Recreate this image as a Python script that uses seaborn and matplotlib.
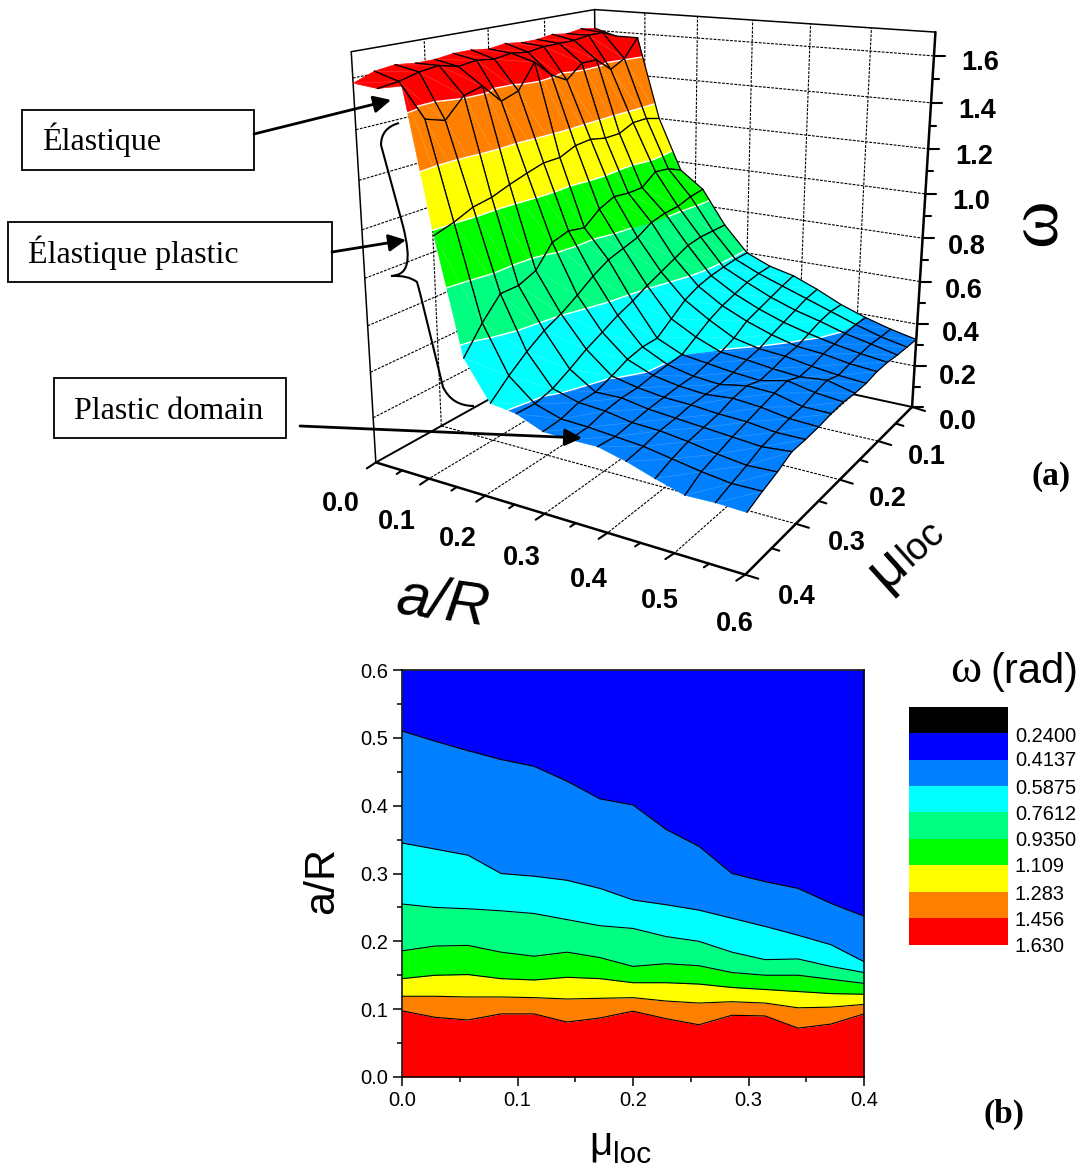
import numpy as np
import seaborn as sns
import matplotlib
matplotlib.use('Agg')
import matplotlib.pyplot as plt
from matplotlib.patches import Polygon, Rectangle, PathPatch
from matplotlib.path import Path

sns.set_theme(style='ticks')
plt.rcParams['font.family'] = ['Liberation Sans', 'DejaVu Sans']
plt.rcParams['text.color'] = 'black'
plt.rcParams['xtick.labelcolor'] = 'black'
plt.rcParams['ytick.labelcolor'] = 'black'

# ------------------------------------------------------------------
# Data: surface (a)
# ------------------------------------------------------------------
a_grid = [0.0, 0.0429, 0.0857, 0.1286, 0.1714, 0.2143, 0.2571, 0.3, 0.3429, 0.3857, 0.4286, 0.4714, 0.5143, 0.5571, 0.6]
mu_grid = [0.4, 0.3714, 0.3429, 0.3143, 0.2857, 0.2571, 0.2286, 0.2, 0.1714, 0.1429, 0.1143, 0.0857, 0.0571, 0.0286, 0.0]

omega_r00 = [1.58, 1.61, 1.62, 1.61, 1.61, 1.62, 1.62, 1.61, 1.62, 1.61, 1.61, 1.62, 1.61, 1.62, 1.61]
omega_r01 = [1.57, 1.58, 1.60, 1.61, 1.59, 1.60, 1.59, 1.60, 1.59, 1.60, 1.60, 1.60, 1.61, 1.61, 1.58]
omega_r02 = [1.59, 1.445, 1.42, 1.50, 1.52, 1.44, 1.465, 1.57, 1.50, 1.46, 1.52, 1.52, 1.46, 1.495, 1.58]
omega_r03 = [1.03, 1.054, 1.087, 1.10, 1.127, 1.15, 1.17, 1.17, 1.20, 1.206, 1.19, 1.19, 1.22, 1.22, 1.20]
omega_r04 = [0.56, 0.665, 0.75, 0.75, 0.78, 0.87, 0.89, 0.875, 0.93, 0.96, 0.95, 0.95, 1.0, 0.99, 0.96]
omega_r05 = [0.40, 0.47, 0.53, 0.58, 0.615, 0.66, 0.71, 0.75, 0.77, 0.79, 0.83, 0.845, 0.85, 0.87, 0.88]
omega_r06 = [0.385, 0.38, 0.40, 0.44, 0.485, 0.52, 0.557, 0.585, 0.62, 0.65, 0.68, 0.71, 0.72, 0.72, 0.72]
omega_r07 = [0.34, 0.345, 0.368, 0.368, 0.394, 0.425, 0.44, 0.44, 0.49, 0.54, 0.57, 0.586, 0.594, 0.60, 0.60]
omega_r08 = [0.337, 0.34, 0.36, 0.37, 0.37, 0.38, 0.385, 0.39, 0.43, 0.47, 0.50, 0.52, 0.54, 0.55, 0.553]
omega_r09 = [0.338, 0.33, 0.34, 0.35, 0.355, 0.36, 0.36, 0.375, 0.385, 0.41, 0.45, 0.47, 0.49, 0.51, 0.526]
omega_r10 = [0.31, 0.32, 0.335, 0.34, 0.35, 0.35, 0.35, 0.36, 0.375, 0.385, 0.41, 0.43, 0.45, 0.47, 0.48]
omega_r11 = [0.273, 0.30, 0.32, 0.33, 0.34, 0.36, 0.37, 0.35, 0.36, 0.375, 0.38, 0.40, 0.42, 0.43, 0.427]
omega_r12 = [0.24, 0.28, 0.30, 0.32, 0.335, 0.35, 0.365, 0.375, 0.35, 0.355, 0.37, 0.375, 0.385, 0.39, 0.386]
omega_r13 = [0.244, 0.265, 0.285, 0.31, 0.32, 0.33, 0.335, 0.35, 0.36, 0.34, 0.35, 0.355, 0.36, 0.355, 0.353]
omega_r14 = [0.24, 0.267, 0.29, 0.32, 0.32, 0.324, 0.333, 0.337, 0.33, 0.33, 0.34, 0.34, 0.333, 0.33, 0.327]

surface_levels = [0.39, 0.61, 0.83, 1.05, 1.27, 1.49]
surface_colors = ['#0080ff', '#00ffff', '#00ff80', '#00ff00', '#ffff00', '#ff8000', '#ff0000']

# ------------------------------------------------------------------
# Data: contour map (b), a/R of each band's upper edge against mu
# ------------------------------------------------------------------
mu_map = [0.0, 0.0286, 0.0571, 0.0857, 0.1143, 0.1429, 0.1714, 0.2, 0.2286, 0.2571, 0.2857, 0.3143, 0.3429, 0.3714, 0.4]
edge_red = [0.0975, 0.088, 0.084, 0.093, 0.093, 0.081, 0.087, 0.097, 0.086, 0.077, 0.091, 0.090, 0.072, 0.078, 0.093]
edge_orange = [0.119, 0.119, 0.118, 0.118, 0.117, 0.115, 0.116, 0.117, 0.112, 0.109, 0.111, 0.109, 0.102, 0.103, 0.107]
edge_yellow = [0.145, 0.150, 0.151, 0.145, 0.143, 0.147, 0.145, 0.139, 0.139, 0.137, 0.132, 0.129, 0.126, 0.123, 0.122]
edge_green = [0.186, 0.193, 0.194, 0.184, 0.178, 0.184, 0.176, 0.163, 0.167, 0.164, 0.154, 0.150, 0.150, 0.144, 0.138]
edge_spring = [0.255, 0.25, 0.248, 0.245, 0.241, 0.232, 0.223, 0.219, 0.207, 0.200, 0.184, 0.173, 0.174, 0.163, 0.154]
edge_cyan = [0.345, 0.336, 0.327, 0.30, 0.296, 0.29, 0.278, 0.261, 0.254, 0.246, 0.234, 0.222, 0.209, 0.195, 0.17]
edge_azure = [0.51, 0.495, 0.481, 0.468, 0.458, 0.436, 0.41, 0.401, 0.365, 0.34, 0.30, 0.288, 0.278, 0.256, 0.237]

legend_labels = ['0.2400', '0.4137', '0.5875', '0.7612', '0.9350', '1.109', '1.283', '1.456', '1.630']
legend_colors = ['#000000', '#0000ff', '#0080ff', '#00ffff', '#00ff80', '#00ff00', '#ffff00', '#ff8000', '#ff0000']

omega = np.array([omega_r00, omega_r01, omega_r02, omega_r03, omega_r04, omega_r05, omega_r06, omega_r07,
                  omega_r08, omega_r09, omega_r10, omega_r11, omega_r12, omega_r13, omega_r14])

fig = plt.figure(figsize=(10.77, 11.69), dpi=100)
ax = fig.add_axes([0, 0, 1, 1])
ax.set_xlim(0, 1077)
ax.set_ylim(1169, 0)
ax.axis('off')

# ------------------------------------------------------------------
# Perspective of the 3D box, fitted on the box corners and axis marks
# (a/0.6, mu/0.4, omega/1.7) -> pixel
# ------------------------------------------------------------------
box_world = [(0, 1, 0), (1, 1, 0), (1, 0, 0), (0, 0, 0), (0, 1, 1), (0, 0, 1), (1, 0, 1),
             (0.5, 1, 0), (1, 0.5, 0), (1, 0, 0.47), (0, 0.5, 1)]
box_pixel = [(377, 464), (747, 573), (913, 406), (597, 338), (351, 51), (595, 10), (935, 32),
             (543, 513), (838, 482), (923, 239), (488, 28)]

rows = []
rhs = []
for (X, Y, Z), (u, v) in zip(box_world, box_pixel):
    rows.append([X, Y, Z, 1, 0, 0, 0, 0, -u * X, -u * Y, -u * Z])
    rows.append([0, 0, 0, 0, X, Y, Z, 1, -v * X, -v * Y, -v * Z])
    rhs += [u, v]
h = np.linalg.lstsq(np.array(rows, float), np.array(rhs, float), rcond=None)[0]
P = np.append(h, 1).reshape(3, 4)


def proj(a, mu, z):
    p = P @ np.array([a / 0.6, mu / 0.4, z / 1.7, 1.0])
    return p[0] / p[2], p[1] / p[2]


def seg(p, q, **kw):
    x0, y0 = proj(*p)
    x1, y1 = proj(*q)
    ax.plot([x0, x1], [y0, y1], **kw)


def clip_band(poly, lo, hi):
    # keep the part of a polygon (x, y, z) lying between two omega levels
    for bound, sign in ((lo, 1), (hi, -1)):
        out = []
        for i in range(len(poly)):
            p, q = poly[i], poly[(i + 1) % len(poly)]
            dp, dq = sign * (p[2] - bound), sign * (q[2] - bound)
            if dp >= 0:
                out.append(p)
            if dp * dq < 0:
                t = dp / (dp - dq)
                out.append(tuple(p[k] + t * (q[k] - p[k]) for k in range(3)))
        poly = out
        if not poly:
            return []
    return poly


# walls and floor of the box
dash = dict(color='black', lw=0.8, ls=(0, (2.5, 1.2)), zorder=1)
solid = dict(color='black', lw=1.1, zorder=1)
for z in np.arange(0.2, 1.61, 0.2):
    seg((0, 0.4, z), (0, 0, z), **dash)
    seg((0, 0, z), (0.6, 0, z), **dash)
for m in (0.1, 0.2, 0.3):
    seg((0, m, 0), (0, m, 1.7), **dash)
    seg((0, m, 0), (0.6, m, 0), **dash)
for a in (0.1, 0.2, 0.3, 0.4, 0.5):
    seg((a, 0, 0), (a, 0, 1.7), **dash)
    seg((a, 0, 0), (a, 0.4, 0), **dash)
seg((0, 0.4, 0), (0, 0.4, 1.7), **solid)
seg((0, 0.4, 1.7), (0, 0, 1.7), **solid)
seg((0, 0, 1.7), (0.6, 0, 1.7), **solid)
seg((0, 0, 0), (0, 0, 1.7), **solid)
seg((0, 0.4, 0), (0, 0, 0), color='black', lw=1.4, zorder=1)
seg((0, 0, 0), (0.6, 0, 0), color='black', lw=1.4, zorder=1)

# surface, painted from the back corner to the front corner
bands = [-1.0] + surface_levels + [9.0]
n_r, n_c = omega.shape
for r in range(n_r - 1):
    for c in range(n_c - 2, -1, -1):
        idx = [(r, c), (r, c + 1), (r + 1, c + 1), (r + 1, c)]
        quad = [proj(a_grid[i], mu_grid[j], omega[i, j]) + (omega[i, j],) for i, j in idx]
        for k, col in enumerate(surface_colors):
            part = clip_band(quad, bands[k], bands[k + 1])
            if len(part) > 2:
                ax.add_patch(Polygon([p[:2] for p in part], closed=True, fc=col, ec=col, lw=0.4, zorder=2))
        # faint diagonal of each cell
        ax.plot([quad[0][0], quad[2][0]], [quad[0][1], quad[2][1]], color='white', lw=0.5, alpha=0.2, zorder=2)
        for lev in surface_levels:
            cross = []
            for i in range(4):
                p, q = quad[i], quad[(i + 1) % 4]
                if (p[2] - lev) * (q[2] - lev) < 0:
                    t = (lev - p[2]) / (q[2] - p[2])
                    cross.append((p[0] + t * (q[0] - p[0]), p[1] + t * (q[1] - p[1])))
            if len(cross) >= 2:
                ax.plot([cross[0][0], cross[1][0]], [cross[0][1], cross[1][1]], color='white', lw=1.0, zorder=2)
        # mesh lines (the mu = 0.4 edge and the a = 0 edge stay unlined)
        xy = [q[:2] for q in quad]
        if r > 0:
            ax.plot([xy[0][0], xy[1][0]], [xy[0][1], xy[1][1]], color='black', lw=0.9, zorder=2)
        if c + 1 < n_c:
            ax.plot([xy[1][0], xy[2][0]], [xy[1][1], xy[2][1]], color='black', lw=0.9, zorder=2)
        if c > 0:
            ax.plot([xy[3][0], xy[0][0]], [xy[3][1], xy[0][1]], color='black', lw=0.9, zorder=2)
        ax.plot([xy[2][0], xy[3][0]], [xy[2][1], xy[3][1]], color='black', lw=0.9, zorder=2)

# thick axes with ticks
axis_kw = dict(color='black', lw=1.8, zorder=3)
seg((0, 0.4, 0), (0.6, 0.4, 0), **axis_kw)
seg((0.6, 0.4, 0), (0.6, 0, 0), **axis_kw)
seg((0.6, 0, 0), (0.6, 0, 1.7), **axis_kw)


def tick(p, dx, dy):
    x0, y0 = proj(*p)
    ax.plot([x0, x0 + dx], [y0, y0 + dy], color='black', lw=1.5, zorder=3)


for i in range(13):
    a = i * 0.05
    s = 1.0 if i % 2 == 0 else 0.6
    tick((a, 0.4, 0), -9 * s, 6 * s)
for i in range(9):
    m = i * 0.05
    s = 1.0 if i % 2 == 0 else 0.6
    tick((0.6, m, 0), 13 * s, 4 * s)
for i in range(17):
    z = i * 0.1
    s = 1.0 if i % 2 == 0 else 0.6
    tick((0.6, 0, z), 11 * s, 0)

tick_font = dict(fontsize=19.5, fontweight='bold', ha='center', va='center', zorder=4)
a_labels = ['0.0', '0.1', '0.2', '0.3', '0.4', '0.5', '0.6']
a_label_x = [341, 397, 458, 522, 589, 660, 735]
a_label_y = [504, 522, 539, 558, 580, 601, 624]
for s, x, y in zip(a_labels, a_label_x, a_label_y):
    ax.text(x, y, s, **tick_font)
mu_labels = ['0.1', '0.2', '0.3', '0.4']
mu_label_x = [927, 888, 847, 797]
mu_label_y = [457, 499, 543, 597]
for s, x, y in zip(mu_labels, mu_label_x, mu_label_y):
    ax.text(x, y, s, **tick_font)
z_labels = ['1.6', '1.4', '1.2', '1.0', '0.8', '0.6', '0.4', '0.2', '0.0']
z_label_x = [980, 977, 974, 971, 967, 964, 961, 958, 958]
z_label_y = [63, 111, 157, 202, 247, 291, 334, 377, 422]
for s, x, y in zip(z_labels, z_label_x, z_label_y):
    ax.text(x, y, s, **tick_font)

ax.text(443, 604, 'a/R', fontsize=43, style='italic', rotation=-8, ha='center', va='center', zorder=4)
ax.text(887, 568, 'μ', fontsize=42, rotation=42, ha='center', va='center', zorder=4)
ax.text(922, 544, 'loc', fontsize=27, rotation=42, ha='center', va='center', zorder=4)
ax.text(1038, 222, 'ω', fontsize=52, family='Liberation Serif', rotation=90, ha='center', va='center', zorder=4)
ax.text(1051, 476, '(a)', fontsize=24, family='Liberation Serif', fontweight='bold', ha='center', va='center')
ax.text(1004, 1114, '(b)', fontsize=24, family='Liberation Serif', fontweight='bold', ha='center', va='center')

# annotation boxes
box_x = [22, 8, 54]
box_y = [110, 222, 378]
box_w = [232, 324, 232]
box_h = [60, 60, 60]
box_text = ['Élastique', 'Élastique plastic', 'Plastic domain']
box_text_x = [42, 28, 74]
box_text_y = [150, 263, 419]
for x, y, w, h_, s, tx, ty in zip(box_x, box_y, box_w, box_h, box_text, box_text_x, box_text_y):
    ax.add_patch(Rectangle((x, y), w, h_, fc='white', ec='black', lw=1.3, zorder=5))
    ax.text(tx, ty, s, fontsize=23, family='Liberation Serif', ha='left', va='baseline', zorder=6)

arrow_from = [(254, 134), (332, 252), (300, 426)]
arrow_to = [(391, 100), (406, 240), (582, 438)]
for p, q in zip(arrow_from, arrow_to):
    ax.annotate('', xy=q, xytext=p, zorder=6,
                arrowprops=dict(arrowstyle='-|>', color='black', lw=2, mutation_scale=26,
                                shrinkA=0, shrinkB=0))

# curly brace
brace_pts = [(399, 123), (381, 128), (381, 145), (403, 226), (412, 262), (408, 275), (391, 276),
             (408, 275), (417, 282), (420, 293), (443, 387), (452, 406), (474, 406)]
brace_codes = [Path.MOVETO, Path.CURVE3, Path.CURVE3, Path.LINETO, Path.CURVE4, Path.CURVE4, Path.CURVE4,
               Path.CURVE3, Path.CURVE3, Path.LINETO, Path.LINETO, Path.CURVE3, Path.CURVE3]
ax.add_patch(PathPatch(Path(brace_pts, brace_codes), fc='none', ec='black', lw=1.5, zorder=6))

# ------------------------------------------------------------------
# Contour map (b)
# ------------------------------------------------------------------
ax2 = fig.add_axes([402 / 1077, 1 - 1077 / 1169, 462 / 1077, 407 / 1169])
edges = [edge_red, edge_orange, edge_yellow, edge_green, edge_spring, edge_cyan, edge_azure]
fill_colors = ['#ff0000', '#ff8000', '#ffff00', '#00ff00', '#00ff80', '#00ffff', '#0080ff', '#0000ff']
lower = [0.0] * len(mu_map)
for edge, col in zip(edges + [[0.6] * len(mu_map)], fill_colors):
    ax2.fill_between(mu_map, lower, edge, color=col, lw=0)
    lower = edge
for edge in edges:
    sns.lineplot(x=mu_map, y=edge, color='black', lw=0.8, ax=ax2, legend=False, estimator=None)
ax2.set_xlim(0, 0.4)
ax2.set_ylim(0, 0.6)
ax2.set_xticks([0.0, 0.1, 0.2, 0.3, 0.4])
ax2.set_yticks([0.0, 0.1, 0.2, 0.3, 0.4, 0.5, 0.6])
ax2.set_xticks([0.05, 0.15, 0.25, 0.35], minor=True)
ax2.set_yticks([0.05, 0.15, 0.25, 0.35, 0.45, 0.55], minor=True)
ax2.tick_params(which='major', length=6.5, width=1.1, labelsize=14.5, direction='out', color='black', labelcolor='black')
ax2.tick_params(which='minor', length=3.6, width=1.1, direction='out', color='black')
for sp in ax2.spines.values():
    sp.set_linewidth(1.1)
    sp.set_color('black')
ax2.set_xlabel('')
ax2.set_ylabel('')
ax2.grid(False)

ax.text(322, 880, 'a/R', fontsize=31, rotation=90, ha='center', va='center')
ax.text(601, 1143, 'μ', fontsize=29, ha='center', va='center')
ax.text(632, 1155, 'loc', fontsize=21.5, ha='center', va='center')

# band legend
legend_top = [707, 733, 760, 786, 812, 839, 865, 892, 918]
legend_bottom = [733, 760, 786, 812, 839, 865, 892, 918, 945]
legend_text_y = [736, 761, 788, 814, 841, 867, 894, 920, 947]
for top, bot, col, s, ty in zip(legend_top, legend_bottom, legend_colors, legend_labels, legend_text_y):
    ax.add_patch(Rectangle((909, top), 99, bot - top, fc=col, ec='none'))
    ax.text(1015, ty, s, fontsize=14.4, ha='left', va='center')
ax.text(966, 671, 'ω', fontsize=34, family='Liberation Serif', ha='center', va='center')
ax.text(1034, 672, '(rad)', fontsize=30, ha='center', va='center')

fig.savefig('out.png', dpi=100)
